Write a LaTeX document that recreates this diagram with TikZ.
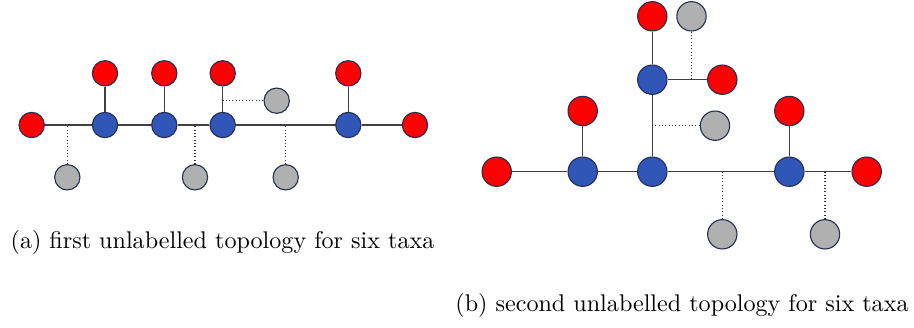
\documentclass[tikz,border=0pt]{standalone}
\usetikzlibrary{positioning}

\definecolor{leafred}{RGB}{255,0,0}
\definecolor{innerblue}{RGB}{48,87,184}
\definecolor{spotgrey}{RGB}{176,176,176}
\definecolor{rim}{RGB}{38,46,82}

\begin{document}
\begin{tikzpicture}[
  x=0.45pt, y=-0.45pt,
  dot/.style={circle, draw=rim, line width=0.5pt, inner sep=0pt},
  sm/.style={minimum size=11.4pt},
  lg/.style={minimum size=13.2pt},
  leaf/.style={dot, fill=leafred},
  inner/.style={dot, fill=innerblue},
  spot/.style={dot, fill=spotgrey},
  link/.style={draw=black!75, line width=0.6pt},
  ins/.style={draw=black!80, densely dotted, line width=0.5pt},
  captext/.style={font=\fontsize{10.85}{13}\selectfont, inner sep=0pt}
]
\useasboundingbox (0,0) rectangle (914,327);

% (a) first topology
\node[leaf, sm] (la) at (31.7,125) {};
\node[leaf, sm] (lz) at (415,125) {};
\foreach \i/\x in {1/105,2/164.3,3/222.7,4/348.3} {
  \node[inner, sm] (lb\i) at (\x,125) {};
  \node[leaf, sm] (lt\i) at (\x,73.3) {};
  \draw[link] (lb\i) -- (lt\i);
}
\draw[link] (la) -- (lb1) -- (lb2) -- (lb3) -- (lb4) -- (lz);
\foreach \i/\x in {1/67.3,2/195,3/285.7}
  \node[spot, sm] (lg\i) at (\x,177.3) {};
\node[spot, sm] (lg4) at (276.7,100.7) {};
\foreach \i in {1,2,3} \draw[ins] (lg\i.north) -- (lg\i |- la);
\draw[ins] (lg4.west) -- (lg4 -| lb3);
\node[captext] (capa) at (222.5,242) {(a) first unlabelled topology for six taxa};

% (b) second topology
\node[leaf, lg] (ra) at (496.7,171.7) {};
\node[inner, lg] (rb1) at (582.7,171.7) {};
\node[inner, lg] (rb2) at (652.3,171.7) {};
\node[inner, lg] (rb3) at (789.3,171.7) {};
\node[leaf, lg] (rz) at (866.7,171.7) {};
\node[leaf, lg] (rt1) at (582.7,111) {};
\node[leaf, lg] (rt3) at (789.3,111) {};
\node[inner, lg] (ru) at (652.3,79.7) {};
\node[leaf, lg] (rut) at (652.3,16.3) {};
\node[leaf, lg] (rur) at (722.3,79.7) {};
\draw[link] (ra) -- (rb1) -- (rb2) -- (rb3) -- (rz);
\draw[link] (rb1) -- (rt1);
\draw[link] (rb3) -- (rt3);
\draw[link] (rb2) -- (ru) -- (rut);
\draw[link] (ru) -- (rur);
\node[spot, lg] (rg1) at (691.5,16.3) {};
\node[spot, lg] (rg2) at (715,125.7) {};
\node[spot, lg] (rg3) at (722.3,234.3) {};
\node[spot, lg] (rg4) at (825,234.3) {};
\draw[ins] (rg1.south) -- (rg1 |- ru);
\draw[ins] (rg2.west) -- (rg2 -| ru);
\draw[ins] (rg3.north) -- (rg3 |- rb2);
\draw[ins] (rg4.north) -- (rg4 |- rb3);
\node[captext] (capb) at (682,305) {(b) second unlabelled topology for six taxa};
\end{tikzpicture}
\end{document}
